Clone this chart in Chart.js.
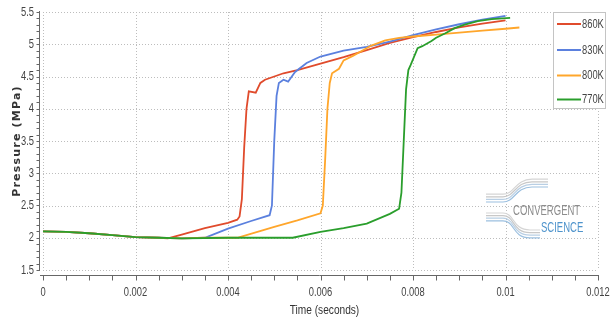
<!DOCTYPE html>
<html>
<head>
<meta charset="utf-8">
<script src="https://cdn.jsdelivr.net/npm/chart.js@4"></script>
<style>
  html, body { margin: 0; padding: 0; background: #fff; }
  #wrap { width: 611px; height: 321px; position: relative; }
</style>
</head>
<body>
<div id="wrap"><canvas id="chart" width="611" height="321"></canvas></div>
<script>
// values
const seriesNames = ['860K', '830K', '800K', '770K'];
const seriesColors = ['#e04b2c', '#5b80de', '#ffa62b', '#2a9e2c'];

const t860 = [0, 0.0005, 0.001, 0.0015, 0.002, 0.0025, 0.0027, 0.003, 0.0035, 0.004, 0.0042, 0.00425, 0.0043, 0.00435, 0.0044, 0.00445, 0.0046, 0.0047, 0.0048, 0.005, 0.0052, 0.0055, 0.006, 0.0065, 0.007, 0.0075, 0.008, 0.0085, 0.009, 0.0095, 0.01];
const p860 = [2.10, 2.09, 2.07, 2.04, 2.01, 2.00, 1.99, 2.05, 2.15, 2.23, 2.28, 2.33, 2.6, 3.4, 4.0, 4.27, 4.25, 4.40, 4.45, 4.50, 4.55, 4.60, 4.70, 4.80, 4.91, 5.02, 5.11, 5.19, 5.26, 5.32, 5.37];

const t830 = [0, 0.0005, 0.001, 0.0015, 0.002, 0.0025, 0.003, 0.0035, 0.004, 0.0045, 0.0049, 0.00495, 0.005, 0.00505, 0.0051, 0.0052, 0.0053, 0.00545, 0.0057, 0.006, 0.0065, 0.007, 0.0075, 0.008, 0.0085, 0.009, 0.0095, 0.01];
const p830 = [2.10, 2.09, 2.07, 2.04, 2.01, 2.00, 1.99, 2.00, 2.14, 2.26, 2.35, 2.5, 3.5, 4.2, 4.4, 4.45, 4.42, 4.57, 4.71, 4.81, 4.90, 4.96, 5.04, 5.14, 5.23, 5.31, 5.38, 5.44];

const t800 = [0, 0.0005, 0.001, 0.0015, 0.002, 0.0025, 0.003, 0.0035, 0.0042, 0.005, 0.0055, 0.006, 0.00605, 0.0061, 0.00615, 0.0062, 0.00625, 0.0064, 0.0065, 0.0067, 0.0069, 0.0071, 0.0074, 0.0077, 0.008, 0.0085, 0.009, 0.0095, 0.01, 0.0103];
const p800 = [2.10, 2.09, 2.07, 2.04, 2.01, 2.00, 1.99, 2.00, 2.00, 2.17, 2.27, 2.38, 2.5, 3.2, 4.0, 4.4, 4.55, 4.62, 4.75, 4.82, 4.9, 4.98, 5.06, 5.10, 5.12, 5.15, 5.18, 5.21, 5.24, 5.26];

const t770 = [0, 0.0005, 0.001, 0.0015, 0.002, 0.0025, 0.003, 0.004, 0.0054, 0.006, 0.0065, 0.007, 0.0075, 0.0077, 0.00775, 0.0078, 0.00785, 0.0079, 0.00795, 0.0081, 0.0082, 0.0084, 0.0085, 0.0087, 0.0089, 0.0091, 0.0094, 0.0097, 0.0101];
const p770 = [2.10, 2.09, 2.07, 2.04, 2.01, 2.00, 1.99, 2.00, 2.00, 2.09, 2.15, 2.22, 2.37, 2.45, 2.7, 3.5, 4.3, 4.6, 4.68, 4.94, 4.97, 5.05, 5.1, 5.17, 5.25, 5.3, 5.36, 5.39, 5.41];

const xTicks = [0, 0.002, 0.004, 0.006, 0.008, 0.01, 0.012];
const yTicks = [1.5, 2, 2.5, 3, 3.5, 4, 4.5, 5, 5.5];
const xTitle = 'Time (seconds)';
const yTitle = 'Pressure (MPa)';

const times = [t860, t830, t800, t770];
const pressures = [p860, p830, p800, p770];

const sans = "'Liberation Sans', Arial, sans-serif";

function pairs(ts, ps) {
    return ts.map((t, i) => ({ x: t, y: ps[i] }));
}

// the original uses a very narrow font, so squeeze the text sideways
function narrowText(ctx, text, x, y, align, size, color, sx) {
    sx = sx || 0.72;
    ctx.save();
    ctx.font = size + 'px ' + sans;
    ctx.fillStyle = color;
    ctx.textBaseline = 'middle';
    const w = ctx.measureText(text).width * sx;
    let left = x;
    if (align === 'center') left = x - w / 2;
    if (align === 'right') left = x - w;
    ctx.translate(left, y);
    ctx.scale(sx, 1);
    ctx.textAlign = 'left';
    ctx.fillText(text, 0, 0);
    ctx.restore();
}

// dotted grid at the major ticks
const gridPlugin = {
    id: 'dotGrid',
    beforeDatasetsDraw(chart) {
        const { ctx, chartArea: a, scales } = chart;
        ctx.save();
        ctx.strokeStyle = '#bdbdbd';
        ctx.lineWidth = 1;
        ctx.setLineDash([1, 2]);
        ctx.beginPath();
        xTicks.forEach(v => {
            const px = Math.round(scales.x.getPixelForValue(v)) + 0.5;
            ctx.moveTo(px, a.top);
            ctx.lineTo(px, a.bottom);
        });
        yTicks.forEach(v => {
            const py = Math.round(scales.y.getPixelForValue(v)) + 0.5;
            ctx.moveTo(a.left, py);
            ctx.lineTo(a.right, py);
        });
        ctx.stroke();
        ctx.restore();
    }
};

// axis lines, small ticks, tick labels and titles
const axesPlugin = {
    id: 'axes',
    afterDraw(chart) {
        const { ctx, chartArea: a, scales } = chart;
        const x = scales.x, y = scales.y;
        ctx.save();
        ctx.strokeStyle = '#666';
        ctx.lineWidth = 1;
        const yb = Math.round(a.bottom) + 5.5;
        ctx.beginPath();
        ctx.moveTo(a.left - 3, yb);
        ctx.lineTo(a.right + 1, yb);
        for (let v = x.min; v <= x.max + 1e-9; v += 0.0005) {
            const px = Math.round(x.getPixelForValue(v)) + 0.5;
            ctx.moveTo(px, yb);
            ctx.lineTo(px, yb + 5);
        }
        const xl = Math.round(a.left) - 3.5;
        ctx.moveTo(xl, a.top - 1);
        ctx.lineTo(xl, a.bottom + 1);
        for (let v = y.min; v <= y.max + 1e-9; v += 0.1) {
            const py = Math.round(y.getPixelForValue(v)) + 0.5;
            ctx.moveTo(xl - 3, py);
            ctx.lineTo(xl, py);
        }
        ctx.stroke();
        ctx.restore();

        xTicks.forEach(v => {
            narrowText(ctx, String(v), x.getPixelForValue(v), a.bottom + 22, 'center', 13, '#444');
        });
        yTicks.forEach(v => {
            narrowText(ctx, String(v), a.left - 9, y.getPixelForValue(v), 'right', 13, '#444');
        });
        narrowText(ctx, xTitle, (a.left + a.right) / 2 + 4, a.bottom + 40, 'center', 13, '#333', 0.78);

        ctx.save();
        ctx.translate(17, (a.top + a.bottom) / 2);
        ctx.rotate(-Math.PI / 2);
        ctx.font = "bold 11px 'DejaVu Sans', sans-serif";
        ctx.letterSpacing = '1.2px';
        ctx.fillStyle = '#333';
        ctx.textAlign = 'center';
        ctx.textBaseline = 'middle';
        ctx.fillText(yTitle, 0, 0);
        ctx.restore();
    }
};

// legend box at the top right, inside the plot
const legendPlugin = {
    id: 'boxLegend',
    afterDraw(chart) {
        const ctx = chart.ctx;
        ctx.save();
        ctx.fillStyle = '#fff';
        ctx.strokeStyle = '#c4c4c4';
        ctx.lineWidth = 1;
        ctx.fillRect(553.5, 12.5, 52, 96);
        ctx.strokeRect(553.5, 12.5, 52, 96);
        const rows = [24, 50, 75.5, 99.5];
        seriesNames.forEach((name, i) => {
            ctx.strokeStyle = seriesColors[i];
            ctx.lineWidth = 2;
            ctx.beginPath();
            ctx.moveTo(557, rows[i]);
            ctx.lineTo(581, rows[i]);
            ctx.stroke();
            narrowText(ctx, name, 582, rows[i], 'left', 13, '#444');
        });
        ctx.restore();
    }
};

// watermark logo
const logoPlugin = {
    id: 'logo',
    beforeDatasetsDraw(chart) {
        const ctx = chart.ctx;
        ctx.save();
        ctx.lineWidth = 1.2;
        const cols = ['#9cc0e0', '#b9cfe4', '#c8c8c8', '#d5d5d5'];
        for (let i = 0; i < 4; i++) {
            const o = i * 2.6;
            ctx.strokeStyle = cols[i];
            ctx.beginPath();
            ctx.moveTo(486, 202 - o);
            ctx.lineTo(503, 202 - o);
            ctx.bezierCurveTo(515, 202 - o, 515, 187 - o, 532, 187 - o);
            ctx.lineTo(548, 187 - o);
            ctx.stroke();
            ctx.strokeStyle = cols[3 - i];
            ctx.beginPath();
            ctx.moveTo(486, 213 + o);
            ctx.lineTo(503, 213 + o);
            ctx.bezierCurveTo(515, 213 + o, 512, 230 + o, 530, 230 + o);
            ctx.lineTo(540, 230 + o);
            ctx.stroke();
        }
        ctx.restore();
        narrowText(ctx, 'CONVERGENT', 513, 211, 'left', 14, '#8c8c8c', 0.68);
        narrowText(ctx, 'SCIENCE', 541, 228, 'left', 14, '#4f94cc', 0.68);
    }
};

const ctx = document.getElementById('chart').getContext('2d');

const chart = new Chart(ctx, {
    type: 'line',
    data: {
        datasets: seriesNames.map((name, i) => ({
            label: name,
            data: pairs(times[i], pressures[i]),
            borderColor: seriesColors[i],
            borderWidth: 1.8,
            pointRadius: 0,
            tension: 0,
            fill: false,
            order: 3 - i
        }))
    },
    options: {
        responsive: false,
        animation: false,
        layout: { padding: { left: 43, right: 13, top: 12, bottom: 51 } },
        plugins: {
            legend: { display: false },
            tooltip: { enabled: false }
        },
        scales: {
            x: {
                type: 'linear',
                min: 0,
                max: 0.012,
                ticks: { display: false },
                grid: { display: false, drawTicks: false },
                border: { display: false }
            },
            y: {
                min: 1.5,
                max: 5.5,
                ticks: { display: false },
                grid: { display: false, drawTicks: false },
                border: { display: false }
            }
        }
    },
    plugins: [gridPlugin, logoPlugin, axesPlugin, legendPlugin]
});
</script>
</body>
</html>
